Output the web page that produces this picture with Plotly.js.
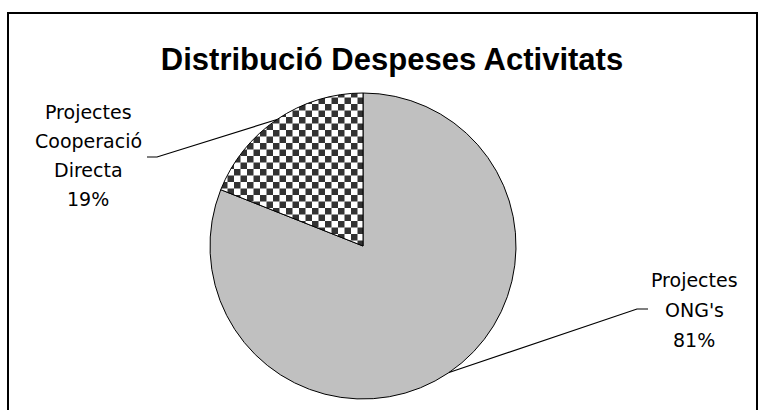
<!DOCTYPE html>
<html><head><meta charset="utf-8">
<script src="https://cdn.plot.ly/plotly-3.0.1.min.js"></script>
<style>html,body{margin:0;padding:0;background:#fff}</style>
</head><body>
<div id="chart" style="width:763px;height:410px"></div>
<script>
// ---- data ----
const categories = ["Projectes ONG's", "Projectes Cooperació Directa"];
const labelLines = [["Projectes", "ONG's"], ["Projectes", "Cooperació", "Directa"]];
const values = [81, 19];
const sliceColors = ["#c0c0c0", "#333333"];
const titleText = "Distribució Despeses Activitats";

// ---- layout geometry (pixels) ----
const W = 763, H = 410;
const cx = 363, cy = 246, R = 153;
const dom = {x: [(cx - R) / W, (cx + R) / W], y: [(H - cy - R) / H, (H - cy + R) / H]};
const labelPos = [
  {x: 694, y: 279.5, gap: 30, ex: 637, ey: 309, tx: 648},
  {x: 88, y: 111.5, gap: 29.2, ex: 157, ey: 157, tx: 147}
];
const patternIndex = 1;
const px = v => v / W, py = v => 1 - v / H;

const total = values.reduce((a, b) => a + b, 0);
const shapes = [{
  type: 'rect', xref: 'paper', yref: 'paper',
  x0: px(8), x1: px(757), y0: -0.1, y1: py(13),
  line: {color: '#000', width: 2}, fillcolor: 'rgba(0,0,0,0)'
}];
const annotations = [];
let cum = 0;
values.forEach((v, i) => {
  const mid = (cum + v / 2) / total * 2 * Math.PI;   // clockwise from 12 o'clock
  cum += v;
  const mx = cx + R * Math.sin(mid), my = cy - R * Math.cos(mid);
  const lp = labelPos[i];
  shapes.push({
    type: 'path', xref: 'paper', yref: 'paper',
    path: `M ${px(mx)} ${py(my)} L ${px(lp.ex)} ${py(lp.ey)} L ${px(lp.tx)} ${py(lp.ey)}`,
    line: {color: '#000', width: 1.2}
  });
  const lines = labelLines[i].concat([Math.round(v / total * 100) + '%']);
  lines.forEach((t, k) => {
    annotations.push({
      xref: 'paper', yref: 'paper', x: px(lp.x), y: py(lp.y + k * lp.gap),
      xanchor: 'center', yanchor: 'middle', showarrow: false, text: t,
      font: {family: 'DejaVu Sans', size: 19, color: '#000'}
    });
  });
});

const trace = {
  type: 'pie', labels: categories, values: values, sort: false,
  direction: 'clockwise', rotation: 0,
  marker: {colors: sliceColors, line: {color: '#000', width: 1}},
  textinfo: 'none', hoverinfo: 'none', showlegend: false, domain: dom
};

const layout = {
  width: W, height: H, margin: {l: 0, r: 0, t: 0, b: 0},
  paper_bgcolor: '#fff', plot_bgcolor: '#fff',
  title: {text: titleText, x: 392 / W, xanchor: 'center', y: py(59), yanchor: 'middle',
          font: {family: 'Liberation Sans', size: 31, weight: 'bold', color: '#000'}},
  shapes: shapes, annotations: annotations
};

Plotly.newPlot('chart', [trace], layout, {staticPlot: true, displayModeBar: false}).then(gd => {
  const svgNS = 'http://www.w3.org/2000/svg';
  const svg = gd.querySelector('.main-svg');
  let defs = svg.querySelector('defs');
  if (!defs) { defs = document.createElementNS(svgNS, 'defs'); svg.insertBefore(defs, svg.firstChild); }
  const pat = document.createElementNS(svgNS, 'pattern');
  pat.setAttribute('id', 'chk');
  pat.setAttribute('patternUnits', 'userSpaceOnUse');
  pat.setAttribute('width', '13'); pat.setAttribute('height', '13');
  const mk = (x, y, w, h, c) => { const r = document.createElementNS(svgNS, 'rect');
    r.setAttribute('x', x); r.setAttribute('y', y); r.setAttribute('width', w); r.setAttribute('height', h);
    r.setAttribute('fill', c); pat.appendChild(r); };
  mk(0, 0, 13, 13, '#ffffff');
  mk(0, 0, 6.5, 6.5, sliceColors[patternIndex]);
  mk(6.5, 6.5, 6.5, 6.5, sliceColors[patternIndex]);
  defs.appendChild(pat);
  const slices = gd.querySelectorAll('.slice path.surface');
  if (slices.length > patternIndex) slices[patternIndex].style.fill = 'url(#chk)';
});
</script>
</body></html>
